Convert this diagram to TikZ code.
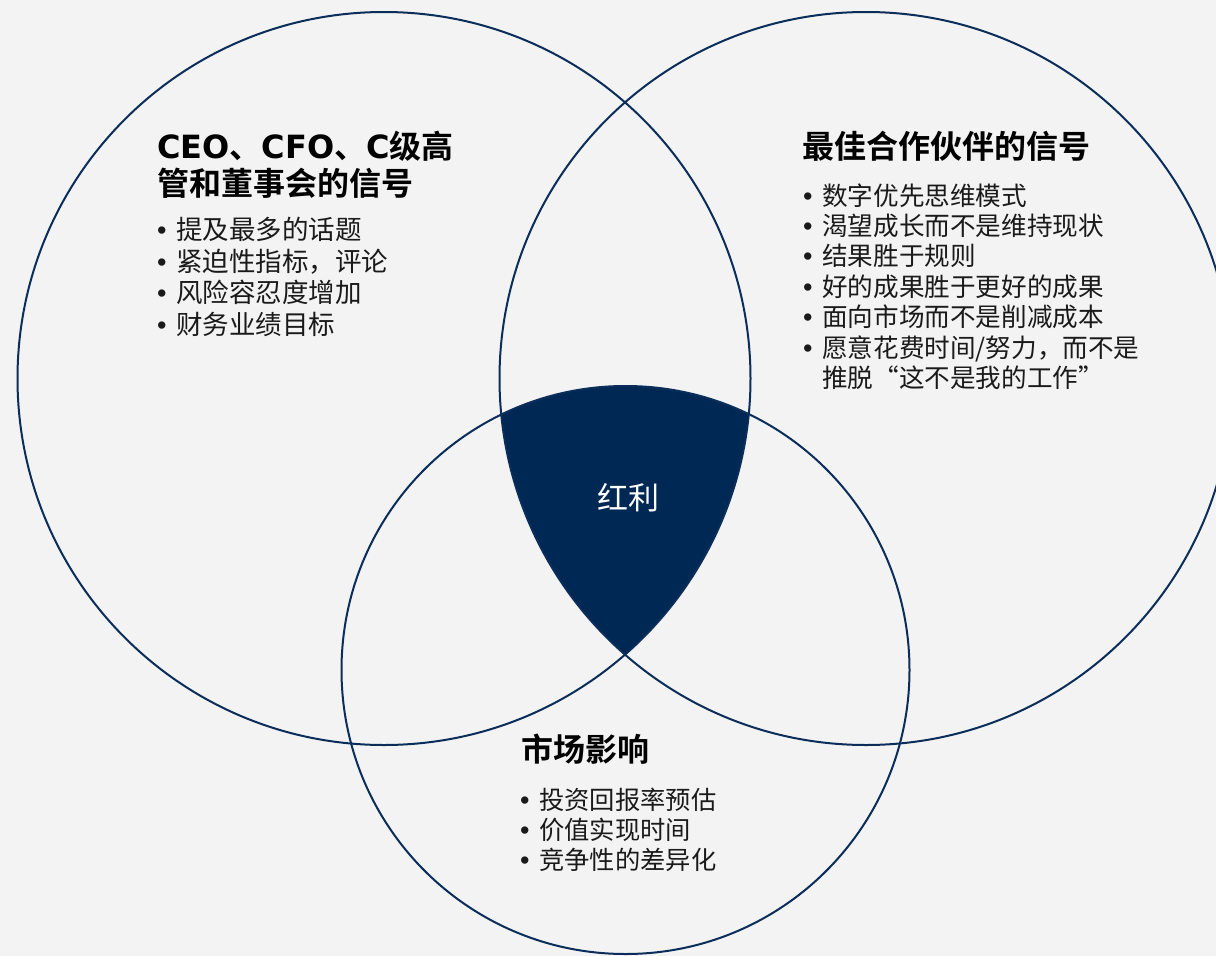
\documentclass[tikz,border=0pt]{standalone}
\usepackage{fontspec}
\newfontfamily\cjk[BoldFont={Noto Sans CJK SC Bold}]{Noto Sans CJK SC}
\newfontfamily\latinheavy{DejaVu Sans Bold}
\newfontfamily\latin{Liberation Sans}
\definecolor{bg}{HTML}{F3F3F3}
\definecolor{navy}{HTML}{0B2D5A}
\definecolor{fillnavy}{HTML}{002855}
\definecolor{txt}{HTML}{1A1A1A}
\newcommand{\bul}{\makebox[19pt][l]{\latin\fontsize{27pt}{27pt}\selectfont\raisebox{0pt}{•}}}
\newcommand{\hc}[1]{{\latinheavy #1}}
\begin{document}
\begin{tikzpicture}[x=1pt,y=-1pt,
  ring/.style={draw=navy,line width=2pt},
  title/.style={anchor=base west,inner sep=0pt,align=left,text=black,
    font=\cjk\bfseries\fontsize{32pt}{37pt}\selectfont},
  items/.style={anchor=base west,inner sep=0pt,align=left,text=txt},
  center/.style={text=white,inner sep=0pt,font=\cjk\fontsize{31pt}{31pt}\selectfont}]
\useasboundingbox (0,0) rectangle (1216,956);
\fill[bg] (0,0) rectangle (1216,956);
\clip (0,0) rectangle (1216,956);
\coordinate (c1) at (384,378.5);
\coordinate (c2) at (866,378.5);
\coordinate (c3) at (625.5,670);
\begin{scope}
  \clip (c1) circle[radius=366.5pt];
  \clip (c2) circle[radius=366.5pt];
  \fill[fillnavy] (c3) circle[radius=284pt];
\end{scope}
\draw[ring] (c1) circle[radius=366.5pt];
\draw[ring] (c2) circle[radius=366.5pt];
\draw[ring] (c3) circle[radius=284pt];

\node[center] (hl) at (628,498) {红利};

% multi-line nodes: base anchor = baseline of the last line
\node[title] (t1) at (157,195) {\hc{CEO}、\hc{CFO}、\hc{C}级高\\管和董事会的信号};
\node[items,font=\cjk\fontsize{26.5pt}{31.4pt}\selectfont] (l1) at (157,334)
  {\bul 提及最多的话题\\\bul 紧迫性指标，评论\\\bul 风险容忍度增加\\\bul 财务业绩目标};

\node[title] (t2) at (802,158) {最佳合作伙伴的信号};
\node[items,font=\cjk\fontsize{25.6pt}{30.4pt}\selectfont] (l2) at (803,387.5)
  {\bul 数字优先思维模式\\\bul 渴望成长而不是维持现状\\\bul 结果胜于规则\\\bul 好的成果胜于更好的成果\\\bul 面向市场而不是削减成本\\\bul 愿意花费时间/努力，而不是\\\hspace*{19pt}推脱“这不是我的工作”};

\node[title] (t3) at (521,761) {市场影响};
\node[items,font=\cjk\fontsize{25.3pt}{30pt}\selectfont] (l3) at (520,869)
  {\bul 投资回报率预估\\\bul 价值实现时间\\\bul 竞争性的差异化};
\end{tikzpicture}
\end{document}
